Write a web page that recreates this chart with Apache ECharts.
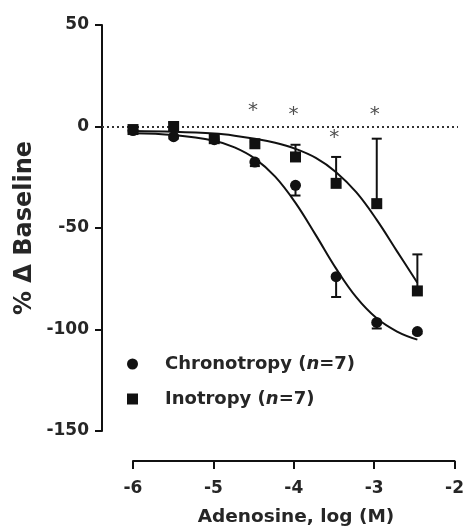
<!DOCTYPE html>
<html>
<head>
<meta charset="utf-8">
<script src="https://cdn.jsdelivr.net/npm/echarts@6/dist/echarts.min.js"></script>
<style>
html,body{margin:0;padding:0;background:#fff;}
#chart{width:467px;height:527px;}
</style>
</head>
<body>
<div id="chart"></div>
<script>
// ---- data ----
const doseLog = [-6, -5.5, -5, -4.5, -4, -3.5, -3, -2.5];
const chronoMean = [-2, -5, -6.5, -17.5, -29, -74, -96.5, -101];
const chronoSem = [0.5, 1, 1, 2, 5, 10, 3, 1];
const inoMean = [-1.5, 0, -6, -8.5, -15, -28, -38, -81];
const inoSem = [0.5, 2, 1, 1, 6, 13, 32, 18];

const fitX = [-6, -5.5, -5, -4.75, -4.5, -4.25, -4, -3.75, -3.5, -3.25, -3, -2.75, -2.5];
const chronoFit = [-3.3, -4.2, -7, -10.3, -15.8, -24.7, -37.6, -53.5, -70, -84.2, -94.5, -101, -105];
const inoFit = [-2.2, -2.6, -3.5, -4.5, -6, -8, -11, -15.5, -22.5, -32.5, -46, -61.5, -77];

const starX = [-4.5, -4, -3.5, -3];
const starY = [8, 6.5, -5, 6.5];

const yTicks = [-150, -100, -50, 0, 50];
const xTicks = [-6, -5, -4, -3, -2];

const legendLabels = {Chronotropy: 'Chronotropy', Inotropy: 'Inotropy'};
const nCount = 7;

// ---- chart ----
const FONT = 'DejaVu Sans';
const INK = '#111';
const TXT = '#262626';
const chart = echarts.init(document.getElementById('chart'), null, {renderer: 'canvas'});

const pxPerUnit = 81.25;
const grid0Width = 356;
const xMinPlot = xTicks[xTicks.length - 1] - grid0Width / pxPerUnit;

function errSeries(mean, sem, sign) {
  return {
    type: 'custom',
    xAxisIndex: 0, yAxisIndex: 0,
    z: 3,
    silent: true,
    data: doseLog.map((x, i) => [x, mean[i], mean[i] + sign * sem[i]]),
    renderItem: function (params, api) {
      const p0 = api.coord([api.value(0), api.value(1)]);
      const p1 = api.coord([api.value(0), api.value(2)]);
      const st = {stroke: INK, lineWidth: 2};
      return {
        type: 'group',
        children: [
          {type: 'line', shape: {x1: p0[0], y1: p0[1], x2: p1[0], y2: p1[1]}, style: st},
          {type: 'line', shape: {x1: p1[0] - 5, y1: p1[1], x2: p1[0] + 5, y2: p1[1]}, style: st}
        ]
      };
    }
  };
}

const option = {
  animation: false,
  backgroundColor: '#fff',
  grid: [
    {left: 102, top: 25, width: grid0Width, height: 406},
    {left: 133, top: 25, width: 325, height: 436}
  ],
  xAxis: [
    {type: 'value', gridIndex: 0, min: xMinPlot, max: xTicks[xTicks.length - 1], show: false},
    {type: 'value', gridIndex: 1, min: xTicks[0], max: xTicks[xTicks.length - 1], interval: 1,
     axisLine: {show: true, lineStyle: {color: INK, width: 2}},
     axisTick: {show: true, inside: false, length: 8, lineStyle: {color: INK, width: 2}},
     axisLabel: {margin: 19, color: TXT, fontFamily: FONT, fontSize: 17, fontWeight: 'bold'},
     splitLine: {show: false}}
  ],
  yAxis: [
    {type: 'value', gridIndex: 0, min: yTicks[0], max: yTicks[yTicks.length - 1], interval: 50,
     axisLine: {show: true, lineStyle: {color: INK, width: 2}},
     axisTick: {show: true, inside: false, length: 7, lineStyle: {color: INK, width: 2}},
     axisLabel: {margin: 13, color: TXT, fontFamily: FONT, fontSize: 17, fontWeight: 'bold'},
     splitLine: {show: false}},
    {type: 'value', gridIndex: 1, min: 0, max: 1, show: false}
  ],
  legend: {
    orient: 'vertical',
    left: 122,
    top: 350,
    itemWidth: 11,
    itemHeight: 11,
    itemGap: 17,
    data: [{name: 'Chronotropy', icon: 'circle'}, {name: 'Inotropy', icon: 'rect'}],
    itemStyle: {opacity: 1},
    formatter: function (name) {
      return '{s|}{t|' + legendLabels[name] + ' (}{i|n}{t|=' + nCount + ')}';
    },
    textStyle: {
      rich: {
        s: {width: 22, lineHeight: 23},
        t: {fontFamily: FONT, fontSize: 18, fontWeight: 'bold', color: TXT, lineHeight: 23},
        i: {fontFamily: FONT, fontSize: 18, fontWeight: 'bold', fontStyle: 'italic', color: TXT, lineHeight: 23}
      }
    }
  },
  graphic: [
    {type: 'text', x: 25, y: 228, rotation: Math.PI / 2,
     style: {text: '% Δ Baseline', fill: TXT, font: 'bold 24px "DejaVu Sans"', align: 'center', verticalAlign: 'middle'}},
    {type: 'text', x: 296, y: 517,
     style: {text: 'Adenosine, log (M)', fill: TXT, font: 'bold 18.5px "DejaVu Sans"', align: 'center', verticalAlign: 'middle'}}
  ],
  series: [
    {
      name: 'chronoFit', type: 'line', xAxisIndex: 0, yAxisIndex: 0, smooth: 0.4,
      showSymbol: false, silent: true, z: 2,
      lineStyle: {color: INK, width: 2},
      data: fitX.map((x, i) => [x, chronoFit[i]]),
      markLine: {
        silent: true, symbol: ['none', 'none'], label: {show: false},
        lineStyle: {color: '#333', width: 1.8, type: [2, 3]},
        data: [{yAxis: 0}]
      }
    },
    {
      name: 'inoFit', type: 'line', xAxisIndex: 0, yAxisIndex: 0, smooth: 0.4,
      showSymbol: false, silent: true, z: 2,
      lineStyle: {color: INK, width: 2},
      data: fitX.map((x, i) => [x, inoFit[i]])
    },
    errSeries(chronoMean, chronoSem, -1),
    errSeries(inoMean, inoSem, 1),
    {
      name: 'Chronotropy', type: 'scatter', xAxisIndex: 0, yAxisIndex: 0, z: 4,
      symbol: 'circle', symbolSize: 11,
      itemStyle: {color: INK, opacity: 1},
      data: doseLog.map((x, i) => [x, chronoMean[i]])
    },
    {
      name: 'Inotropy', type: 'scatter', xAxisIndex: 0, yAxisIndex: 0, z: 5,
      symbol: 'rect', symbolSize: 11,
      itemStyle: {color: INK, opacity: 1},
      data: doseLog.map((x, i) => [x, inoMean[i]])
    },
    {
      name: 'stars', type: 'scatter', xAxisIndex: 0, yAxisIndex: 0, z: 6,
      symbolSize: 0, silent: true,
      label: {show: true, position: 'inside', formatter: '*', offset: [-2, 1],
               fontFamily: FONT, fontSize: 20, color: '#222'},
      data: starX.map((x, i) => [x, starY[i]])
    }
  ]
};
chart.setOption(option);
</script>
</body>
</html>
